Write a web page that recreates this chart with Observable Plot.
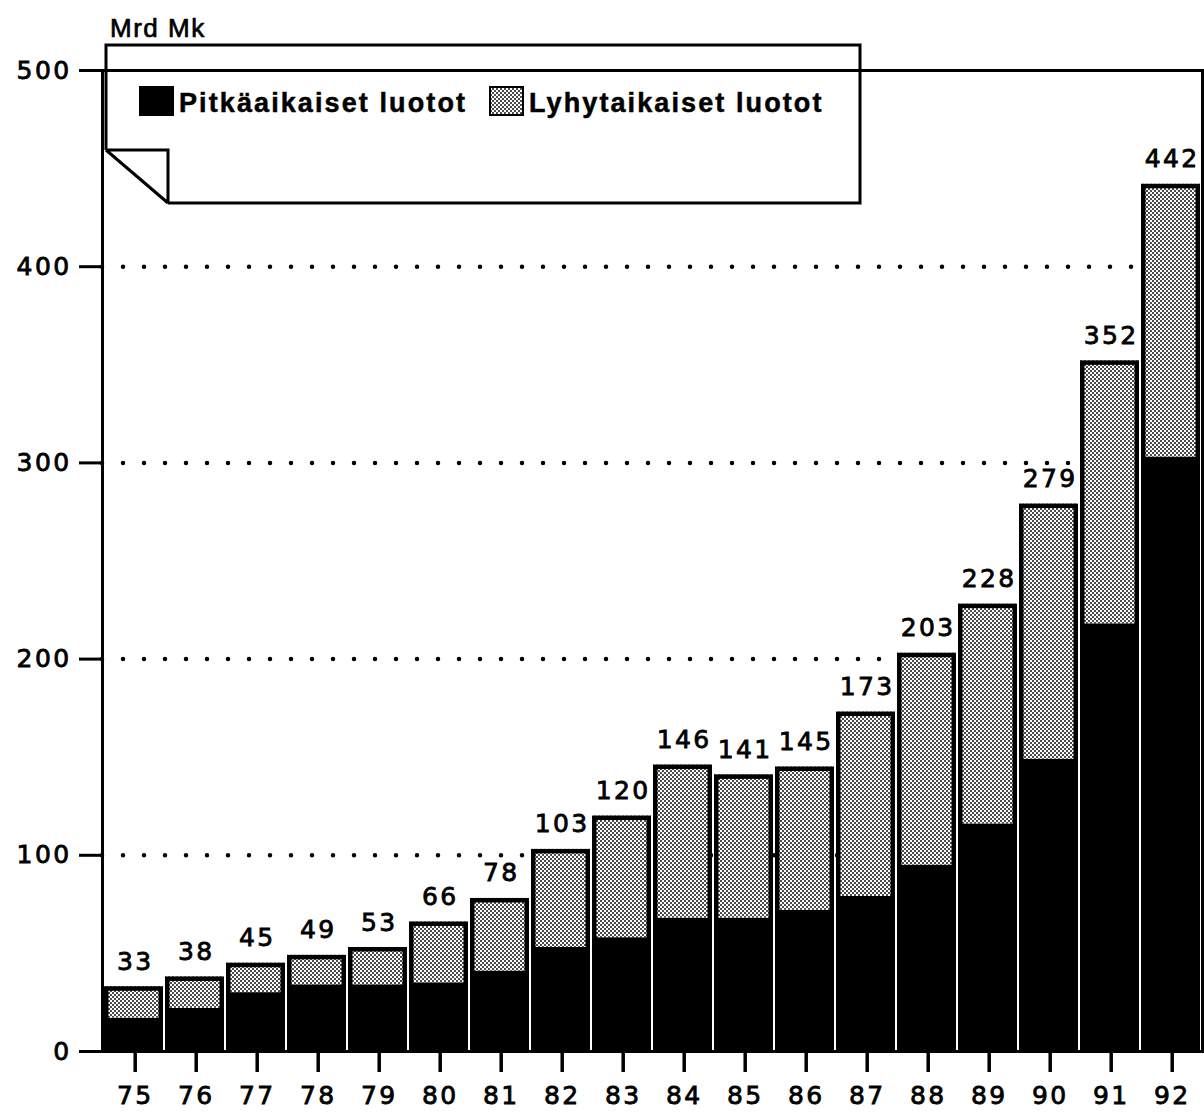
<!DOCTYPE html>
<html><head><meta charset="utf-8">
<script src="https://cdn.jsdelivr.net/npm/d3@7"></script>
<script src="https://cdn.jsdelivr.net/npm/@observablehq/plot@0.6"></script>
<style>
body{margin:0;background:#fff;font-family:"Liberation Sans",Arial,Helvetica,sans-serif;}
#wrap{position:relative;width:1204px;height:1112px;overflow:hidden;}
#unit{position:absolute;left:110px;top:13px;font-size:26px;letter-spacing:1.5px;color:#000;-webkit-text-stroke:0.7px #000;}
#legend{position:absolute;left:0;top:0;pointer-events:none;}
</style></head><body>
<div id="wrap"><div id="chart"></div><div id="unit">Mrd Mk</div><svg id="legend" width="1204" height="230"></svg></div>
<script>
const years = ["75","76","77","78","79","80","81","82","83","84","85","86","87","88","89","90","91","92"];
const longTerm = [17,22,30,34,34,35,41,53,58,68,68,72,79,95,116,149,218,303];
const totals = [33,38,45,49,53,66,78,103,120,146,141,145,173,203,228,279,352,442];
const shortTerm = totals.map((t,i)=>t-longTerm[i]);
const yTicks = [0,100,200,300,400,500];
const gridValues = [100,200,300,400];
const legendLabels = ["Pitkäaikaiset luotot","Lyhytaikaiset luotot"];
const legendFills = ["#000","url(#stipple)"];

const rows = years.map((y,i)=>({year:y,long:longTerm[i],short:shortTerm[i],total:totals[i]}));
const numFont = '"DejaVu Sans",Verdana,sans-serif';

const chart = Plot.plot({
  width:1204, height:1112,
  marginLeft:102, marginRight:2, marginTop:70, marginBottom:61,
  style:{fontFamily:numFont, fontSize:"25px", color:"#000", background:"#fff"},
  x:{domain:years, paddingInner:0.04, paddingOuter:0.005},
  y:{domain:[0,500]},
  marks:[
    Plot.ruleY(gridValues,{stroke:"#000",strokeWidth:4.5,strokeDasharray:"0,21",strokeLinecap:"round"}),
    Plot.barY(rows,{x:"year",y1:0,y2:"long",fill:"#000"}),
    Plot.barY(rows,{x:"year",y1:"long",y2:"total",fill:"url(#stipple)"}),
    Plot.barY(rows,{x:"year",y1:0,y2:"total",fill:"none",stroke:"#000",strokeWidth:4.5,inset:2.25}),
    Plot.text(rows,{x:"year",y:"total",text:d=>String(d.total),dy:-17,dx:1.2,lineAnchor:"bottom",fontSize:25}),
    Plot.frame({stroke:"#000",strokeWidth:3}),
    Plot.axisY({ticks:yTicks, tickSize:23, tickPadding:8, strokeWidth:3, fontSize:25, label:null}),
    Plot.axisX({tickSize:21, tickPadding:14, strokeWidth:3.5, fontSize:25, dx:1.2, label:null})
  ]
});
document.getElementById("chart").appendChild(chart);

const svgc = d3.select(chart);
svgc.selectAll("text").style("letter-spacing","2.4px").style("stroke","#000").style("stroke-width","0.8px");

// stipple pattern
const defs = svgc.insert("defs",":first-child");
const pat = defs.append("pattern").attr("id","stipple").attr("patternUnits","userSpaceOnUse")
  .attr("width",4).attr("height",4);
pat.append("rect").attr("width",4).attr("height",4).attr("fill","#fff");
pat.append("circle").attr("cx",1).attr("cy",1).attr("r",0.95).attr("fill","#000");
pat.append("circle").attr("cx",3).attr("cy",3).attr("r",0.95).attr("fill","#000");

// legend box (overlay)
const lg = d3.select("#legend");
lg.append("path").attr("d","M106,150 V45 H860 V203 H168").attr("fill","none").attr("stroke","#000").attr("stroke-width",3);
lg.append("path").attr("d","M106,150 H168 V203 M106,150 L168,203").attr("fill","none").attr("stroke","#000").attr("stroke-width",3);
const items = [{x:140},{x:490}];
legendLabels.forEach((lab,i)=>{
  lg.append("rect").attr("x",items[i].x).attr("y",87).attr("width",33).attr("height",28)
    .attr("fill",legendFills[i]).attr("stroke","#000").attr("stroke-width",2);
  lg.append("text").attr("x",items[i].x+39).attr("y",112).text(lab)
    .attr("font-family",'"Liberation Sans",Arial,sans-serif').attr("font-weight","bold")
    .attr("font-size",27).attr("letter-spacing","2.1px").attr("fill","#000")
    .attr("stroke","#000").attr("stroke-width",0.5);
});
</script>
</body></html>
